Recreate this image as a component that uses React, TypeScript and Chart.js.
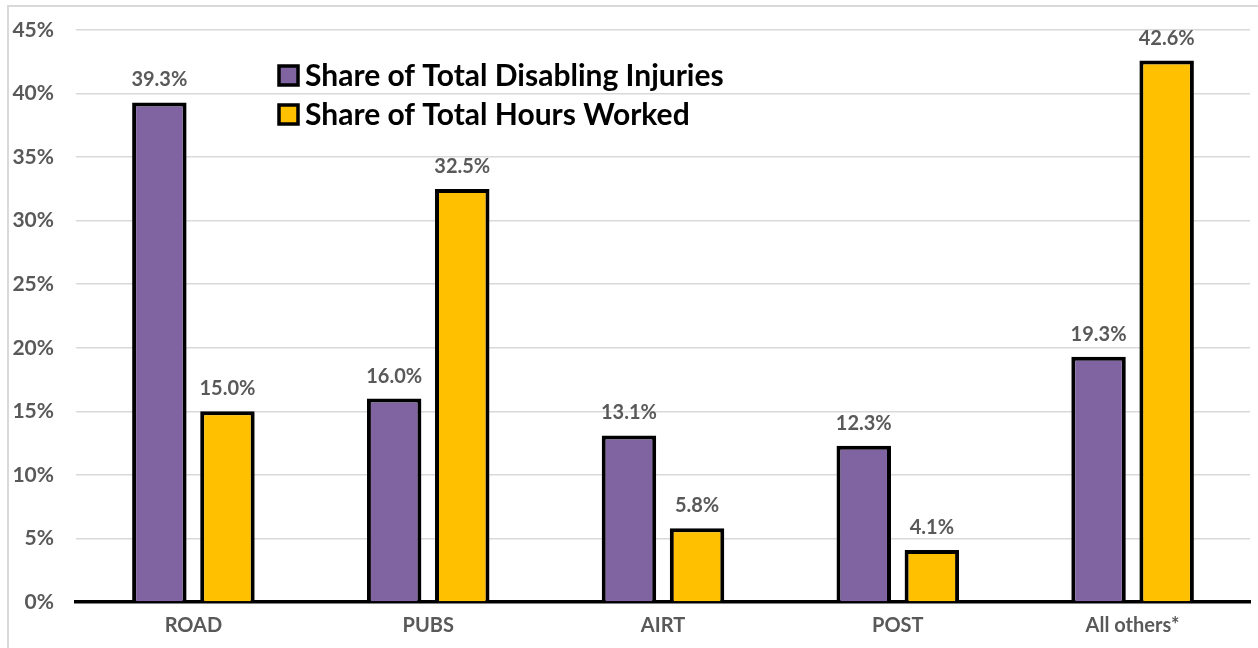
import React, { useEffect, useRef } from "react";
import { Chart, registerables } from "chart.js";

Chart.register(...registerables);

const categories = ["ROAD", "PUBS", "AIRT", "POST", "All others*"];
const injuriesShare = [39.3, 16.0, 13.1, 12.3, 19.3];
const hoursShare = [15.0, 32.5, 5.8, 4.1, 42.6];
const seriesNames = ["Share of Total Disabling Injuries", "Share of Total Hours Worked"];
const seriesColors = ["#8064A2", "#FFC000"];
const yTicks = [0, 5, 10, 15, 20, 25, 30, 35, 40, 45];

const FONT = "Lato, 'Open Sans', sans-serif";

const framePlugin = {
  id: "frame",
  beforeDraw(chart: any) {
    const ctx = chart.ctx;
    ctx.save();
    ctx.fillStyle = "#ffffff";
    ctx.fillRect(0, 0, chart.width, chart.height);
    ctx.strokeStyle = "#d9d9d9";
    ctx.lineWidth = 2;
    ctx.beginPath();
    ctx.moveTo(8, chart.height);
    ctx.lineTo(8, 6);
    ctx.lineTo(chart.width, 6);
    ctx.stroke();
    ctx.restore();
  },
};

const labelPlugin = {
  id: "barLabels",
  afterDatasetsDraw(chart: any) {
    const ctx = chart.ctx;
    ctx.save();
    ctx.font = `bold 20px ${FONT}`;
    ctx.fillStyle = "#595959";
    ctx.textAlign = "center";
    ctx.textBaseline = "alphabetic";
    chart.data.datasets.forEach((ds: any, i: number) => {
      const meta = chart.getDatasetMeta(i);
      meta.data.forEach((bar: any, j: number) => {
        const v = ds.data[j] as number;
        ctx.fillText(v.toFixed(1) + "%", bar.x, bar.y - 16);
      });
    });
    ctx.restore();
  },
};

const legendPlugin = {
  id: "customLegend",
  afterDraw(chart: any) {
    const ctx = chart.ctx;
    ctx.save();
    const x0 = 279;
    const ys = [75, 114];
    chart.data.datasets.forEach((ds: any, i: number) => {
      const y = ys[i];
      ctx.fillStyle = ds.backgroundColor;
      ctx.fillRect(x0, y - 9, 19, 19);
      ctx.strokeStyle = "#000";
      ctx.lineWidth = 3.5;
      ctx.strokeRect(x0, y - 9, 19, 19);
      ctx.fillStyle = "#000";
      ctx.font = `bold 30px ${FONT}`;
      ctx.textAlign = "left";
      ctx.textBaseline = "middle";
      ctx.fillText(ds.label, x0 + 26, y + 1);
    });
    ctx.restore();
  },
};

export default function App() {
  const ref = useRef<HTMLCanvasElement>(null);
  useEffect(() => {
    if (!ref.current) return;
    const chart = new Chart(ref.current, {
      type: "bar",
      data: {
        labels: categories,
        datasets: [
          {
            label: seriesNames[0],
            data: injuriesShare,
            backgroundColor: seriesColors[0],
            borderColor: "#000",
            borderWidth: 4,
          },
          {
            label: seriesNames[1],
            data: hoursShare,
            backgroundColor: seriesColors[1],
            borderColor: "#000",
            borderWidth: 4,
          },
        ],
      },
      options: {
        animation: false,
        responsive: false,
        maintainAspectRatio: false,
        layout: { padding: { left: 8, right: 8, top: 30, bottom: 0 } },
        datasets: {
          bar: { categoryPercentage: 0.58, barPercentage: 0.8 },
        },
        plugins: {
          legend: { display: false },
          tooltip: { enabled: false },
        },
        scales: {
          x: {
            grid: { display: false, drawTicks: false },
            border: { color: "#000", width: 3.5 },
            ticks: {
              color: "#595959",
              font: { family: FONT, size: 20, weight: "bold" },
              padding: 12,
            },
            afterFit(scale: any) {
              scale.height = 46;
              scale.paddingLeft = 0;
              scale.paddingRight = 0;
            },
          },
          y: {
            min: 0,
            max: 45,
            afterBuildTicks(scale: any) {
              scale.ticks = yTicks.map((v) => ({ value: v }));
            },
            grid: { color: "#d9d9d9", lineWidth: 1.5, drawTicks: false },
            border: { display: false },
            ticks: {
              color: "#595959",
              font: { family: FONT, size: 21, weight: "bold" },
              padding: 22,
              callback: (v: any) => v + "%",
            },
            afterFit(scale: any) {
              scale.width = 68;
              scale.paddingTop = 0;
              scale.paddingBottom = 0;
            },
          },
        },
      },
      plugins: [framePlugin, labelPlugin, legendPlugin],
    });
    return () => chart.destroy();
  }, []);
  return (
    <canvas
      ref={ref}
      width={1258}
      height={648}
      style={{ position: "fixed", left: 0, top: 0, width: 1258, height: 648 }}
    />
  );
}
